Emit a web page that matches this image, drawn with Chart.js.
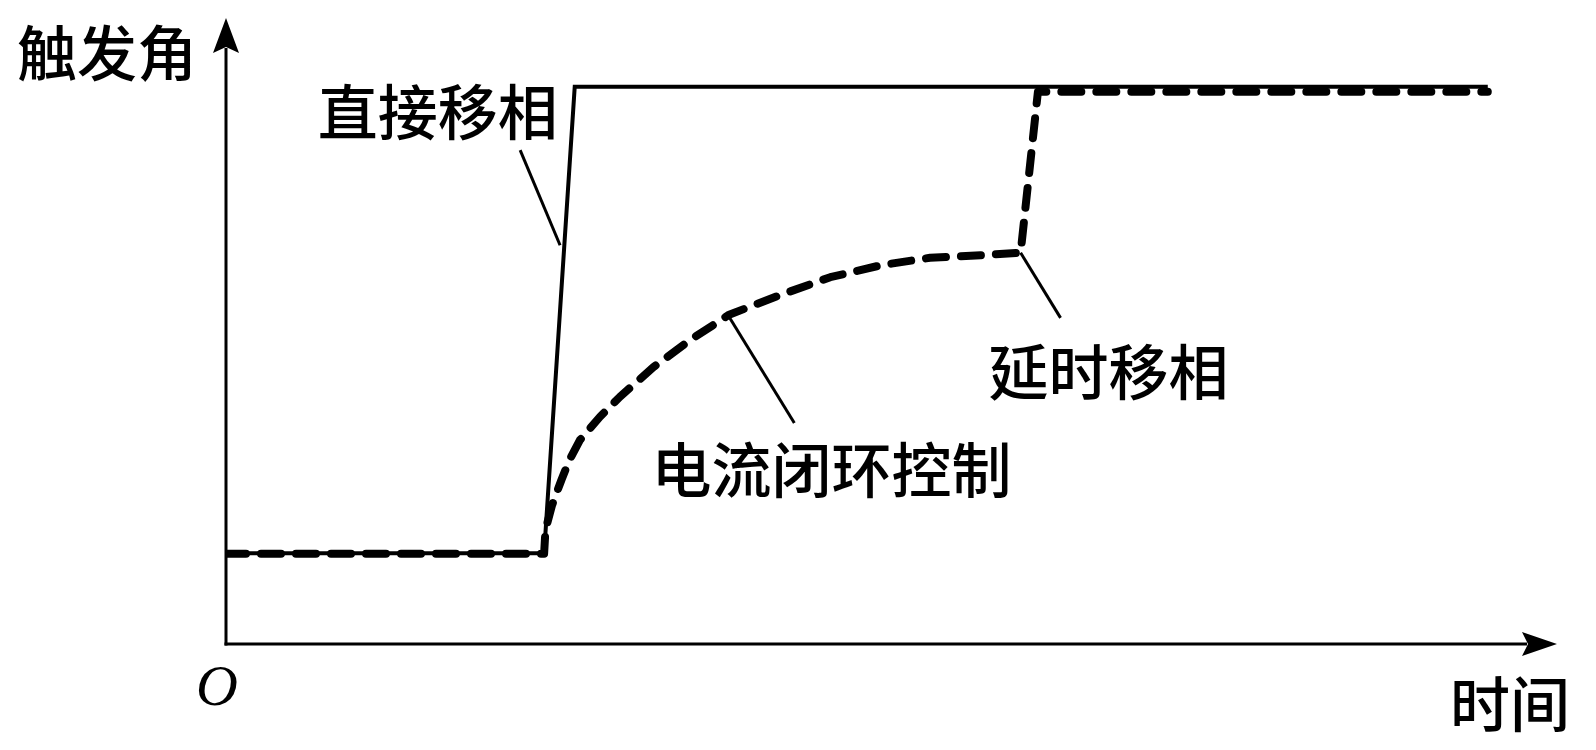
<!DOCTYPE html>
<html>
<head>
<meta charset="utf-8">
<script src="https://cdn.jsdelivr.net/npm/chart.js@4"></script>
<style>
html,body{margin:0;padding:0;background:#fff;}
#wrap{width:1596px;height:750px;}
</style>
</head>
<body>
<div id="wrap"><canvas id="c" width="1596" height="750"></canvas></div>
<script>
// ---- data (time units 0..100, trigger-angle units 0..100) ----
const directTime  = [0, 23.9, 26.2, 94.8];
const directAngle = [14.5, 14.5, 89.0, 89.0];

const closedTime  = [0, 23.9, 24.0, 24.5, 25.2, 25.8, 26.6, 28.1, 29.6, 32.1, 34.9, 37.8, 41.7, 45.4, 49.2, 52.9, 56.7, 59.7, 61.0, 94.8];
const closedAngle = [14.4, 14.4, 18.2, 22.2, 26.2, 29.4, 32.6, 36.3, 39.5, 44.2, 48.6, 52.6, 55.8, 58.6, 60.5, 61.7, 62.1, 62.5, 88.2, 88.2];

const xAxisTitle = '时间';
const yAxisTitle = '触发角';
const originLabel = 'O';

// annotation labels and their leader lines (data coordinates)
const labelTexts  = ['直接移相', '电流闭环控制', '延时移相'];
const labelX      = [15.9, 45.5, 66.3];
const labelY      = [85.0, 27.8, 43.4];
const leaderFromX = [22.1, 37.7, 59.7];
const leaderFromY = [78.9, 52.6, 62.5];
const leaderToX   = [25.1, 42.7, 62.7];
const leaderToY   = [63.7, 35.3, 52.1];

const toPts = (xs, ys) => xs.map((x, i) => ({x: x, y: ys[i]}));

const CJK = '"Noto Sans CJK SC", "Noto Sans CJK TC", sans-serif';

const decorPlugin = {
  id: 'decor',
  beforeDatasetsDraw(chart) {
    const {ctx, chartArea: a} = chart;
    ctx.save();
    ctx.strokeStyle = '#000';
    ctx.fillStyle = '#000';
    ctx.lineWidth = 3;
    ctx.lineCap = 'butt';
    ctx.beginPath();
    ctx.moveTo(a.left, a.bottom + 1.5);
    ctx.lineTo(a.left, a.top + 30);
    ctx.stroke();
    ctx.beginPath();
    ctx.moveTo(a.left - 1.5, a.bottom);
    ctx.lineTo(a.right - 30, a.bottom);
    ctx.stroke();
    ctx.beginPath();
    ctx.moveTo(a.left, a.top);
    ctx.lineTo(a.left + 13, a.top + 35);
    ctx.lineTo(a.left, a.top + 29);
    ctx.lineTo(a.left - 13, a.top + 35);
    ctx.closePath();
    ctx.fill();
    ctx.beginPath();
    ctx.moveTo(a.right, a.bottom);
    ctx.lineTo(a.right - 35, a.bottom - 12);
    ctx.lineTo(a.right - 29, a.bottom);
    ctx.lineTo(a.right - 35, a.bottom + 12);
    ctx.closePath();
    ctx.fill();
    ctx.restore();
  },
  afterDatasetsDraw(chart) {
    const {ctx, chartArea: a, scales} = chart;
    const sx = scales.x, sy = scales.y;
    ctx.save();
    ctx.strokeStyle = '#000';
    ctx.fillStyle = '#000';
    ctx.lineWidth = 3;
    ctx.lineCap = 'butt';
    for (let i = 0; i < labelTexts.length; i++) {
      ctx.beginPath();
      ctx.moveTo(sx.getPixelForValue(leaderFromX[i]), sy.getPixelForValue(leaderFromY[i]));
      ctx.lineTo(sx.getPixelForValue(leaderToX[i]), sy.getPixelForValue(leaderToY[i]));
      ctx.stroke();
    }
    ctx.textAlign = 'center';
    ctx.textBaseline = 'middle';
    ctx.font = '500 60px ' + CJK;
    for (let i = 0; i < labelTexts.length; i++) {
      ctx.fillText(labelTexts[i], sx.getPixelForValue(labelX[i]), sy.getPixelForValue(labelY[i]));
    }
    ctx.fillText(yAxisTitle, a.left - 119, a.top + 35);
    ctx.fillText(xAxisTitle, a.right - 47, a.bottom + 60);
    ctx.font = 'italic 58px "Liberation Serif", "DejaVu Serif", serif';
    ctx.fillText(originLabel, a.left - 9, a.bottom + 46);
    ctx.restore();
  }
};

new Chart(document.getElementById('c'), {
  type: 'line',
  data: {
    datasets: [
      {
        label: '直接移相',
        data: toPts(directTime, directAngle),
        borderColor: '#000',
        borderWidth: 4,
        borderJoinStyle: 'miter',
        pointRadius: 0,
        tension: 0,
        fill: false,
        order: 2
      },
      {
        label: '电流闭环控制 / 延时移相',
        data: toPts(closedTime, closedAngle),
        borderColor: '#000',
        borderWidth: 8,
        borderDash: [20, 15],
        borderCapStyle: 'round',
        borderJoinStyle: 'round',
        pointRadius: 0,
        tension: 0,
        fill: false,
        order: 1
      }
    ]
  },
  options: {
    responsive: false,
    devicePixelRatio: 1,
    animation: false,
    layout: {padding: {left: 226, right: 39, top: 18, bottom: 106}},
    plugins: {legend: {display: false}, tooltip: {enabled: false}},
    scales: {
      x: {type: 'linear', min: 0, max: 100, display: false},
      y: {type: 'linear', min: 0, max: 100, display: false}
    }
  },
  plugins: [decorPlugin]
});
</script>
</body>
</html>
